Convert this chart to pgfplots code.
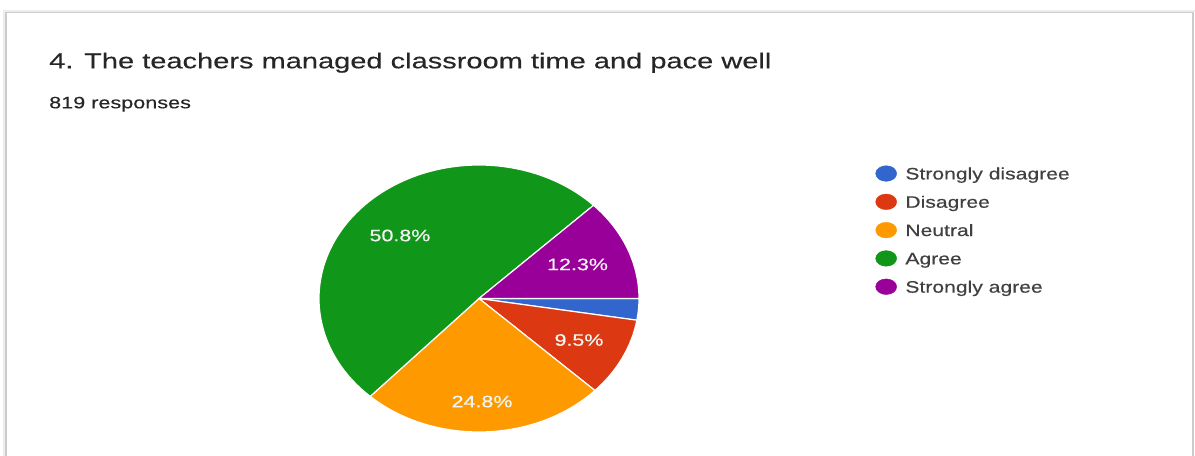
\documentclass[border=0pt]{standalone}
\usepackage{fontspec}
\setmainfont{Liberation Sans}
\newfontfamily\titlefont[FakeStretch=1.35,FakeBold=0.25]{Liberation Sans}
\newfontfamily\subfont[FakeStretch=1.31,FakeBold=0.2]{Liberation Sans}
\newfontfamily\legfont[FakeStretch=1.28,FakeBold=0.3]{Liberation Sans}
\newfontfamily\labfont[FakeStretch=1.3,FakeBold=0.6]{Liberation Sans}
\usepackage{pgfplots}
\usepackage{pgfplotstable}
\pgfplotsset{compat=1.18}
\definecolor{gblue}{HTML}{3366CC}
\definecolor{gred}{HTML}{DC3912}
\definecolor{gorange}{HTML}{FF9900}
\definecolor{ggreen}{HTML}{109618}
\definecolor{gpurple}{HTML}{990099}
\definecolor{titlecol}{HTML}{262626}
\definecolor{legcol}{HTML}{404040}
\definecolor{labcol}{HTML}{F2F6F2}

\pgfplotstableread{
label value
SD 2.6
D 9.5
N 24.8
A 50.8
SA 12.3
}\piedata

\pgfplotstablegetelem{0}{value}\of\piedata \let\vA\pgfplotsretval
\pgfplotstablegetelem{1}{value}\of\piedata \let\vB\pgfplotsretval
\pgfplotstablegetelem{2}{value}\of\piedata \let\vC\pgfplotsretval
\pgfplotstablegetelem{3}{value}\of\piedata \let\vD\pgfplotsretval
\pgfplotstablegetelem{4}{value}\of\piedata \let\vE\pgfplotsretval
\pgfmathsetmacro\aA{-3.6*\vA}
\pgfmathsetmacro\aB{\aA-3.6*\vB}
\pgfmathsetmacro\aC{\aB-3.6*\vC}
\pgfmathsetmacro\aD{\aC-3.6*\vD}
\pgfmathsetmacro\aE{\aD-3.6*\vE}

\begin{document}
\begin{tikzpicture}
\useasboundingbox (0,0) rectangle (1195bp,456bp);
\fill[white] (0,0) rectangle (1195bp,456bp);
% card frame
\draw[black!7, line width=2bp] (4bp,-1bp) -- (4bp,445bp) -- (1195bp,445bp);
\draw[black!20, line width=1.1bp] (6bp,-1bp) -- (6bp,443.5bp) -- (1193bp,443.5bp) -- (1193bp,-1bp);
% title
\node[anchor=base west, inner sep=0pt, text=titlecol] at (49bp,387.7bp)
  {\titlefont\fontsize{21.5bp}{26bp}\selectfont 4. The teachers managed classroom time and pace well};
\node[anchor=base west, inner sep=0pt, text=titlecol] at (49bp,347.7bp)
  {\subfont\fontsize{16.5bp}{20bp}\selectfont 819 responses};
\begin{axis}[
  at={(479bp,157.5bp)}, anchor=center,
  scale only axis, width=320bp, height=267bp,
  xmin=-1, xmax=1, ymin=-1, ymax=1,
  hide axis, clip=false,
  legend style={draw=none, fill=none, inner sep=0pt, outer sep=0pt,
    at={(axis description cs:1.739,0.998)}, anchor=north west,
    row sep=10.4bp,
    nodes={inner sep=0pt, anchor=base west, text=legcol, text height=12bp, text depth=4bp,
      font=\legfont\fontsize{16.5bp}{20bp}\selectfont},
    /tikz/every odd column/.append style={column sep=8.5bp}},
  legend cell align=left,
]
\fill[gblue, draw=white, line width=1.2bp] (axis cs:0,0) -- (axis cs:1,0)
  arc[start angle=0, end angle=\aA, x radius=160bp, y radius=133.5bp] -- cycle;
\fill[gred, draw=white, line width=1.2bp] (axis cs:0,0) -- (axis cs:{cos(\aA)},{sin(\aA)})
  arc[start angle=\aA, end angle=\aB, x radius=160bp, y radius=133.5bp] -- cycle;
\fill[gorange, draw=white, line width=1.2bp] (axis cs:0,0) -- (axis cs:{cos(\aB)},{sin(\aB)})
  arc[start angle=\aB, end angle=\aC, x radius=160bp, y radius=133.5bp] -- cycle;
\fill[ggreen, draw=white, line width=1.2bp] (axis cs:0,0) -- (axis cs:{cos(\aC)},{sin(\aC)})
  arc[start angle=\aC, end angle=\aD, x radius=160bp, y radius=133.5bp] -- cycle;
\fill[gpurple, draw=white, line width=1.2bp] (axis cs:0,0) -- (axis cs:{cos(\aD)},{sin(\aD)})
  arc[start angle=\aD, end angle=\aE, x radius=160bp, y radius=133.5bp] -- cycle;

\node[text=labcol, inner sep=0pt, font=\labfont\fontsize{16.5bp}{19bp}\selectfont] at (axis cs:-0.494,0.472) {\vD\%};
\node[text=labcol, inner sep=0pt, font=\labfont\fontsize{16.5bp}{19bp}\selectfont] at (axis cs:0.616,0.255) {\vE\%};
\node[text=labcol, inner sep=0pt, font=\labfont\fontsize{16.5bp}{19bp}\selectfont] at (axis cs:0.625,-0.311) {\vB\%};
\node[text=labcol, inner sep=0pt, font=\labfont\fontsize{16.5bp}{19bp}\selectfont] at (axis cs:0.019,-0.772) {\vC\%};

\addlegendimage{legend image code/.code={\fill[gblue] (10.5bp,5.9bp) ellipse[x radius=10.5bp, y radius=7.8bp];}}
\addlegendentry{Strongly disagree}
\addlegendimage{legend image code/.code={\fill[gred] (10.5bp,5.9bp) ellipse[x radius=10.5bp, y radius=7.8bp];}}
\addlegendentry{Disagree}
\addlegendimage{legend image code/.code={\fill[gorange] (10.5bp,5.9bp) ellipse[x radius=10.5bp, y radius=7.8bp];}}
\addlegendentry{Neutral}
\addlegendimage{legend image code/.code={\fill[ggreen] (10.5bp,5.9bp) ellipse[x radius=10.5bp, y radius=7.8bp];}}
\addlegendentry{Agree}
\addlegendimage{legend image code/.code={\fill[gpurple] (10.5bp,5.9bp) ellipse[x radius=10.5bp, y radius=7.8bp];}}
\addlegendentry{Strongly agree}
\end{axis}
\end{tikzpicture}
\end{document}
